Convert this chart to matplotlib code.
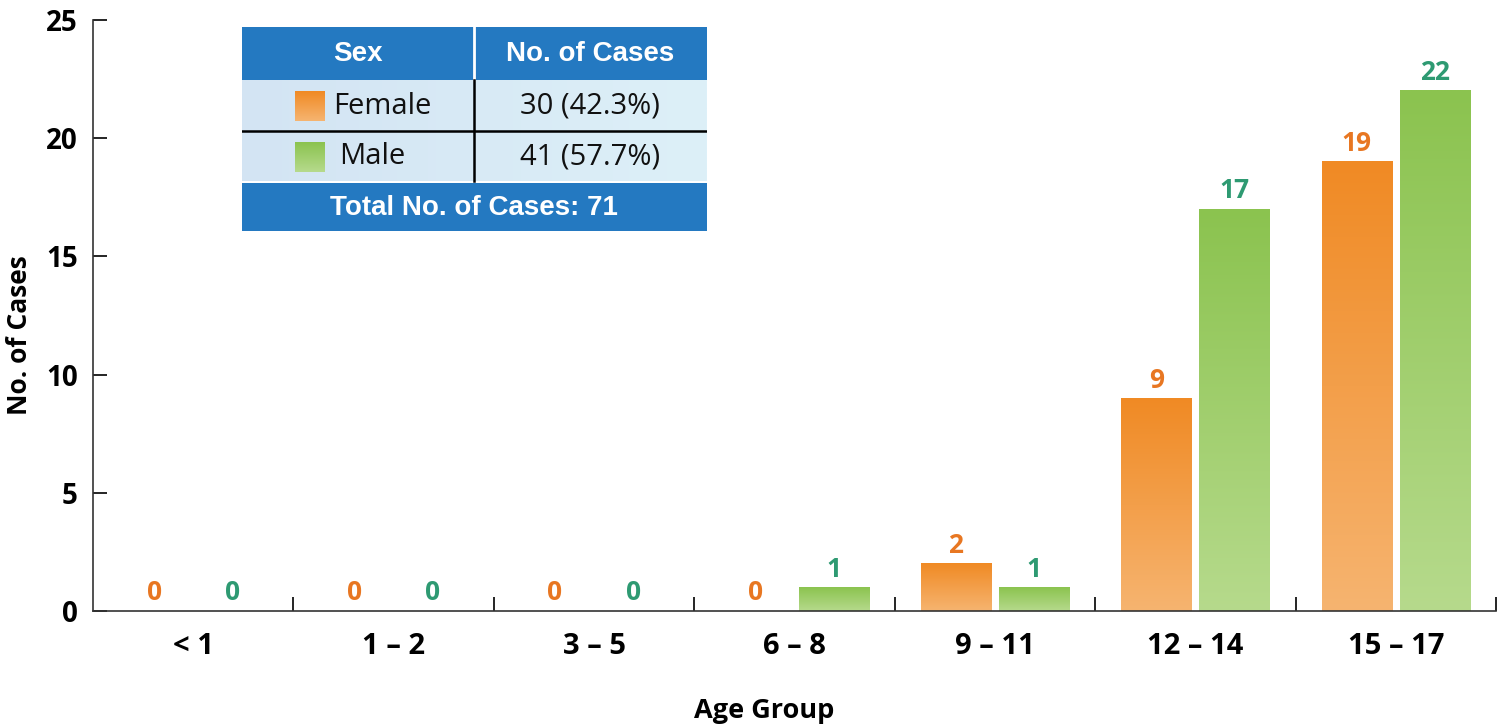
import numpy as np
import matplotlib
matplotlib.use("Agg")
import matplotlib.pyplot as plt
from matplotlib.patches import Rectangle
from matplotlib.colors import LinearSegmentedColormap

# Data
age_groups = ["< 1", "1 – 2", "3 – 5", "6 – 8", "9 – 11", "12 – 14", "15 – 17"]
female = [0, 0, 0, 0, 2, 9, 19]
male = [0, 0, 0, 1, 1, 17, 22]
summary_sex = ["Female", "Male"]
summary_cases = ["30 (42.3%)", "41 (57.7%)"]
total_cases = 71

FONT = ["Open Sans", "DejaVu Sans"]
plt.rcParams["font.family"] = FONT

orange_top, orange_bot = "#F08A24", "#F6B470"
green_top, green_bot = "#8BC34F", "#B6DA8C"
orange_txt, green_txt = "#E87722", "#2E9A72"
blue = "#2479C1"

fig = plt.figure(figsize=(15.09, 7.28), dpi=100)
ax = fig.add_axes([93 / 1509, 1 - 611 / 728, (1496 - 93) / 1509, (611 - 20) / 728])

x = np.arange(len(age_groups))
w = 0.35
off = 0.195


def gradient_bars(xs, vals, top, bot):
    bars = ax.bar(xs, vals, width=w, color="none", edgecolor="none", zorder=2)
    cmap = LinearSegmentedColormap.from_list("g", [bot, top])
    grad = np.linspace(0, 1, 256).reshape(-1, 1)
    for b in bars:
        h = b.get_height()
        if h <= 0:
            continue
        x0 = b.get_x()
        ax.imshow(grad, cmap=cmap, origin="lower", aspect="auto",
                  extent=(x0, x0 + b.get_width(), 0, h), zorder=2,
                  interpolation="bilinear")
    return bars


fb = gradient_bars(x - off, female, orange_top, orange_bot)
mb = gradient_bars(x + off, male, green_top, green_bot)

for xi, v in zip(x - off, female):
    ax.text(xi, v + 0.2, str(v), ha="center", va="bottom", color=orange_txt,
            fontsize=19, fontweight="bold")
for xi, v in zip(x + off, male):
    ax.text(xi, v + 0.2, str(v), ha="center", va="bottom", color=green_txt,
            fontsize=19, fontweight="bold")

ax.set_xlim(-0.5, len(age_groups) - 0.5)
ax.set_ylim(0, 25)
ax.set_yticks([0, 5, 10, 15, 20, 25])
ax.set_xticks(x)
ax.set_xticklabels(age_groups)
ax.set_xticks(np.arange(len(age_groups)) + 0.5, minor=True)
ax.tick_params(axis="x", which="major", length=0, pad=15, labelsize=21)
ax.tick_params(axis="x", which="minor", length=10, direction="in", width=1.2)
ax.tick_params(axis="y", length=10, direction="in", width=1.2, pad=11, labelsize=20)
for lab in ax.get_xticklabels() + ax.get_yticklabels():
    lab.set_fontweight("bold")
for s in ["top", "right"]:
    ax.spines[s].set_visible(False)
for s in ["left", "bottom"]:
    ax.spines[s].set_linewidth(1.2)
    ax.spines[s].set_color("#333333")

fig.text(764 / 1509, 1 - 711 / 728, "Age Group", ha="center", va="center",
         fontsize=19.5, fontweight="bold")
fig.text(20 / 1509, 1 - 335 / 728, "No. of Cases", ha="center", va="center",
         rotation=90, fontsize=19, fontweight="bold")

# Summary table
tax = fig.add_axes([242 / 1509, 1 - 231 / 728, 465 / 1509, 204 / 728])
tax.axis("off")

TFONT = ["Liberation Sans", "DejaVu Sans"]
tax.add_patch(Rectangle((0, 0), 465, 53, color=blue, lw=0))
tax.add_patch(Rectangle((0, 156), 465, 48, color=blue, lw=0))
row_cmap = LinearSegmentedColormap.from_list("row", ["#D3E4F3", "#DDF0F8"])
hgrad = np.linspace(0, 1, 256).reshape(1, -1)
tax.imshow(hgrad, cmap=row_cmap, aspect="auto", extent=(0, 465, 154, 53), zorder=0)
tax.plot([232, 232], [0, 53], color="white", lw=2)
tax.plot([232, 232], [53, 154], color="black", lw=1.8)
tax.plot([0, 465], [103.5, 103.5], color="black", lw=1.8)

tax.text(116, 27, "Sex", ha="center", va="center", color="white",
         fontsize=20, fontweight="bold", family=TFONT)
tax.text(348, 27, "No. of Cases", ha="center", va="center", color="white",
         fontsize=20, fontweight="bold", family=TFONT)
tax.text(232, 181, f"Total No. of Cases: {total_cases}", ha="center", va="center",
         color="white", fontsize=20, fontweight="bold", family=TFONT)

row_y = [79, 130]
swatches = [(orange_top, orange_bot), (green_top, green_bot)]
vgrad = np.linspace(0, 1, 64).reshape(-1, 1)
for (top, bot), yc, name, cases in zip(swatches, row_y, summary_sex, summary_cases):
    cm = LinearSegmentedColormap.from_list("s", [top, bot])
    tax.imshow(vgrad, cmap=cm, aspect="auto", extent=(53, 83, yc + 15, yc - 15), zorder=2)
    tax.text(91 if name == "Female" else 97, yc, name, ha="left", va="center",
             fontsize=21, color="#111111")
    tax.text(348, yc, cases, ha="center", va="center", fontsize=21, color="#111111")
tax.set_xlim(0, 465)
tax.set_ylim(204, 0)

fig.savefig("out.png", dpi=100)
